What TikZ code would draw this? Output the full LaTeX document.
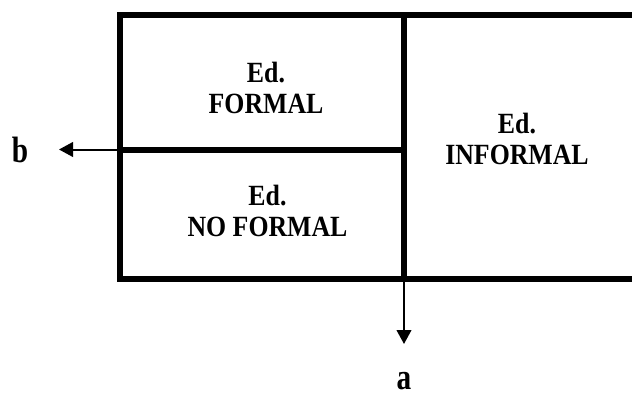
\documentclass[tikz,border=0pt]{standalone}
\usepackage{fontspec}
\setmainfont{Liberation Serif}
\usetikzlibrary{positioning,arrows.meta}

\begin{document}
\begin{tikzpicture}[x=0.75pt,y=0.75pt,
  frame/.style={line width=4.5pt},
  axis/.style={line width=1.5pt,-{Triangle[length=10.5pt,width=11pt]}},
  cell/.style={inner sep=0pt,align=center,xscale=0.88,font=\bfseries\fontsize{22}{23.25}\selectfont},
  lbl/.style={inner sep=0pt,xscale=0.8,font=\bfseries\fontsize{27.5}{30}\selectfont}]

\clip (0,0) rectangle (632,394);

\draw[frame] (120,115) rectangle (640,379.5);
\draw[frame] (404,379.5) -- (404,115);
\draw[frame] (120,244.5) -- (404,244.5);

\node[cell] (formal)   at (266,306.5) {Ed.\\FORMAL};
\node[cell] (noformal) at (267.5,183.5) {Ed.\\NO FORMAL};
\node[cell] (informal) at (517,255) {Ed.\\INFORMAL};

\coordinate (ob) at (120,244.5);
\coordinate (oa) at (404,115);
\coordinate (tb) at (59,244.5);
\coordinate (ta) at (404,50);
\draw[axis] (ob) -- (tb);
\draw[axis] (oa) -- (ta);
\node[lbl,left=23pt of tb] (b) {b};
\node[lbl,below=21pt of ta] (a) {a};
\end{tikzpicture}
\end{document}
